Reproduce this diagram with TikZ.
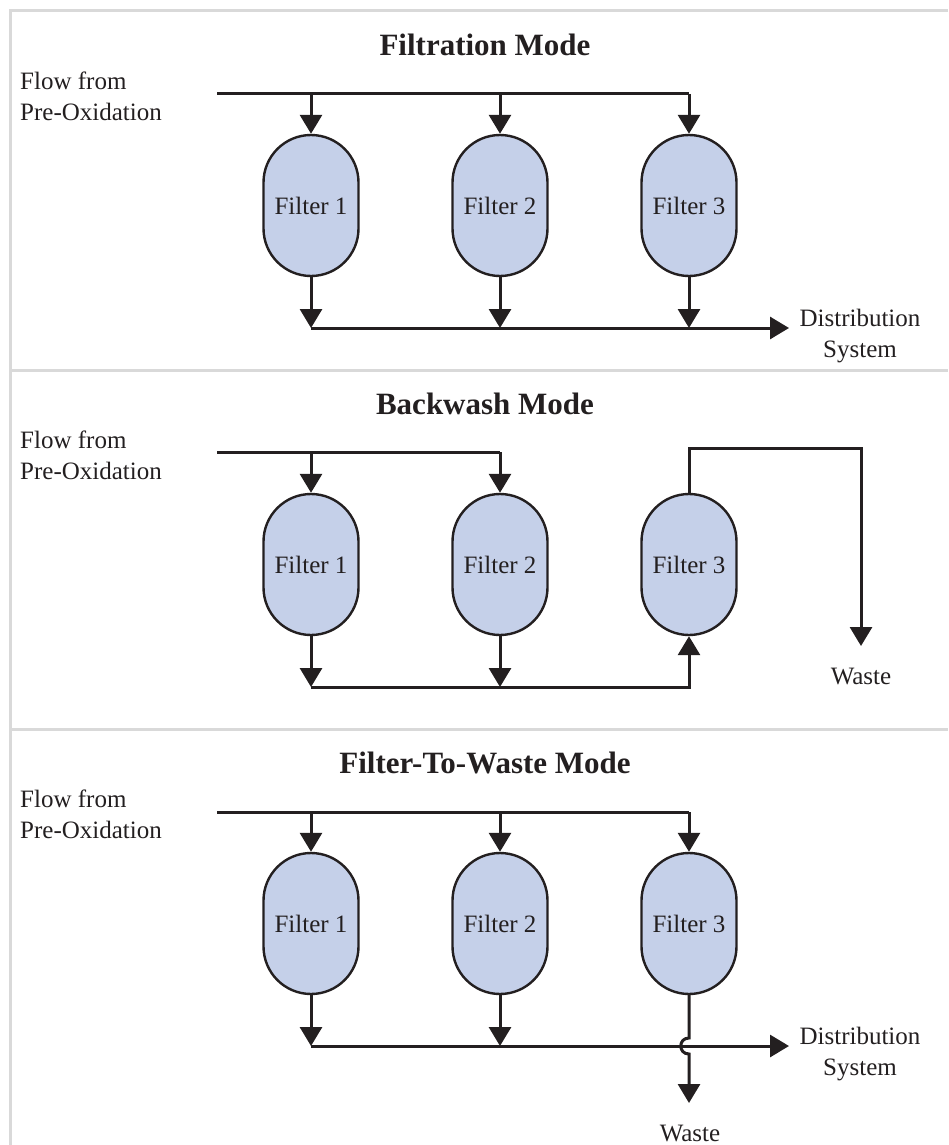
\documentclass[tikz,border=0pt]{standalone}
\usepackage{fontspec}
\setmainfont{Liberation Serif}
\usetikzlibrary{arrows.meta}
\definecolor{ink}{HTML}{231F20}
\definecolor{filterfill}{HTML}{C5D0E9}
\definecolor{framegray}{HTML}{D9D9D9}
\begin{document}
\begin{tikzpicture}[x=1pt,y=-1pt,
  filterbox/.style={draw=ink, line width=2.4pt, fill=filterfill, minimum width=95pt, minimum height=141pt, rounded corners=47.5pt, inner sep=0pt, font=\fontsize{25}{30}\selectfont, text=ink},
  pipe/.style={draw=ink, line width=3pt},
  flow/.style={pipe, -{Triangle[width=22pt,length=19pt]}},
  lbl/.style={font=\fontsize{25}{31}\selectfont, text=ink, inner sep=0pt},
  ttl/.style={font=\fontsize{31}{37}\selectfont\bfseries, text=ink, inner sep=0pt},
  framerule/.style={draw=framegray, line width=3pt}]
\useasboundingbox (0,0) rectangle (948,1145);
% frame
\draw[framerule] (948,10.5) -- (10.5,10.5) -- (10.5,1145);
\draw[framerule] (10.5,370) -- (948,370);
\draw[framerule] (10.5,729) -- (948,729);

% ---------- Panel 1: Filtration ----------
\node[ttl] (t1) at (485,45) {Filtration Mode};
\node[lbl, align=left, anchor=north west] (in1) at (20,72) {Flow from\\Pre-Oxidation};
\node[filterbox] (f11) at (311,205.5) {Filter 1};
\node[filterbox] (f12) at (500,205.5) {Filter 2};
\node[filterbox] (f13) at (689,205.5) {Filter 3};
\coordinate (s1) at (217,94);
\draw[pipe] (s1) -- (f13.north |- s1);
\foreach \i in {1,2,3} \draw[flow] (f1\i.north |- s1) -- (f1\i.north);
\coordinate (b1) at (311,328);
\foreach \i in {1,2,3} \draw[flow] (f1\i.south) -- (f1\i.south |- b1);
\coordinate (e1) at (789,328);
\draw[flow] (b1) -- (e1);
\node[lbl, align=center, anchor=north] (d1) at (860,309) {Distribution\\System};

% ---------- Panel 2: Backwash ----------
\node[ttl] (t2) at (485,404) {Backwash Mode};
\node[lbl, align=left, anchor=north west] (in2) at (20,431) {Flow from\\Pre-Oxidation};
\node[filterbox] (f21) at (311,564.5) {Filter 1};
\node[filterbox] (f22) at (500,564.5) {Filter 2};
\node[filterbox] (f23) at (689,564.5) {Filter 3};
\coordinate (s2) at (217,452);
\draw[pipe] (s2) -- (f22.north |- s2);
\foreach \i in {1,2} \draw[flow] (f2\i.north |- s2) -- (f2\i.north);
\coordinate (lt2) at (861,448);
\coordinate (w2) at (861,646);
\draw[flow] (f23.north) |- (lt2) -- (w2);
\node[lbl] (wl2) at (861,676) {Waste};
\coordinate (b2) at (311,687);
\foreach \i in {1,2} \draw[flow] (f2\i.south) -- (f2\i.south |- b2);
\draw[flow] (b2) -| (f23.south);

% ---------- Panel 3: Filter-to-waste ----------
\node[ttl] (t3) at (485,763) {Filter-To-Waste Mode};
\node[lbl, align=left, anchor=north west] (in3) at (20,790) {Flow from\\Pre-Oxidation};
\node[filterbox] (f31) at (311,923.5) {Filter 1};
\node[filterbox] (f32) at (500,923.5) {Filter 2};
\node[filterbox] (f33) at (689,923.5) {Filter 3};
\coordinate (s3) at (217,812);
\draw[pipe] (s3) -- (f33.north |- s3);
\foreach \i in {1,2,3} \draw[flow] (f3\i.north |- s3) -- (f3\i.north);
\coordinate (b3) at (311,1046);
\foreach \i in {1,2} \draw[flow] (f3\i.south) -- (f3\i.south |- b3);
\coordinate (e3) at (789,1046);
\draw[flow] (b3) -- (e3);
\node[lbl, align=center, anchor=north] (d3) at (860,1027) {Distribution\\System};
\coordinate (j3a) at (689,1038);
\coordinate (j3b) at (689,1054);
\coordinate (w3) at (689,1103);
\draw[flow] (f33.south) -- (j3a) .. controls +(-11,0) and +(-11,0) .. (j3b) -- (w3);
\node[lbl] (wl3) at (690,1133) {Waste};
\end{tikzpicture}
\end{document}
